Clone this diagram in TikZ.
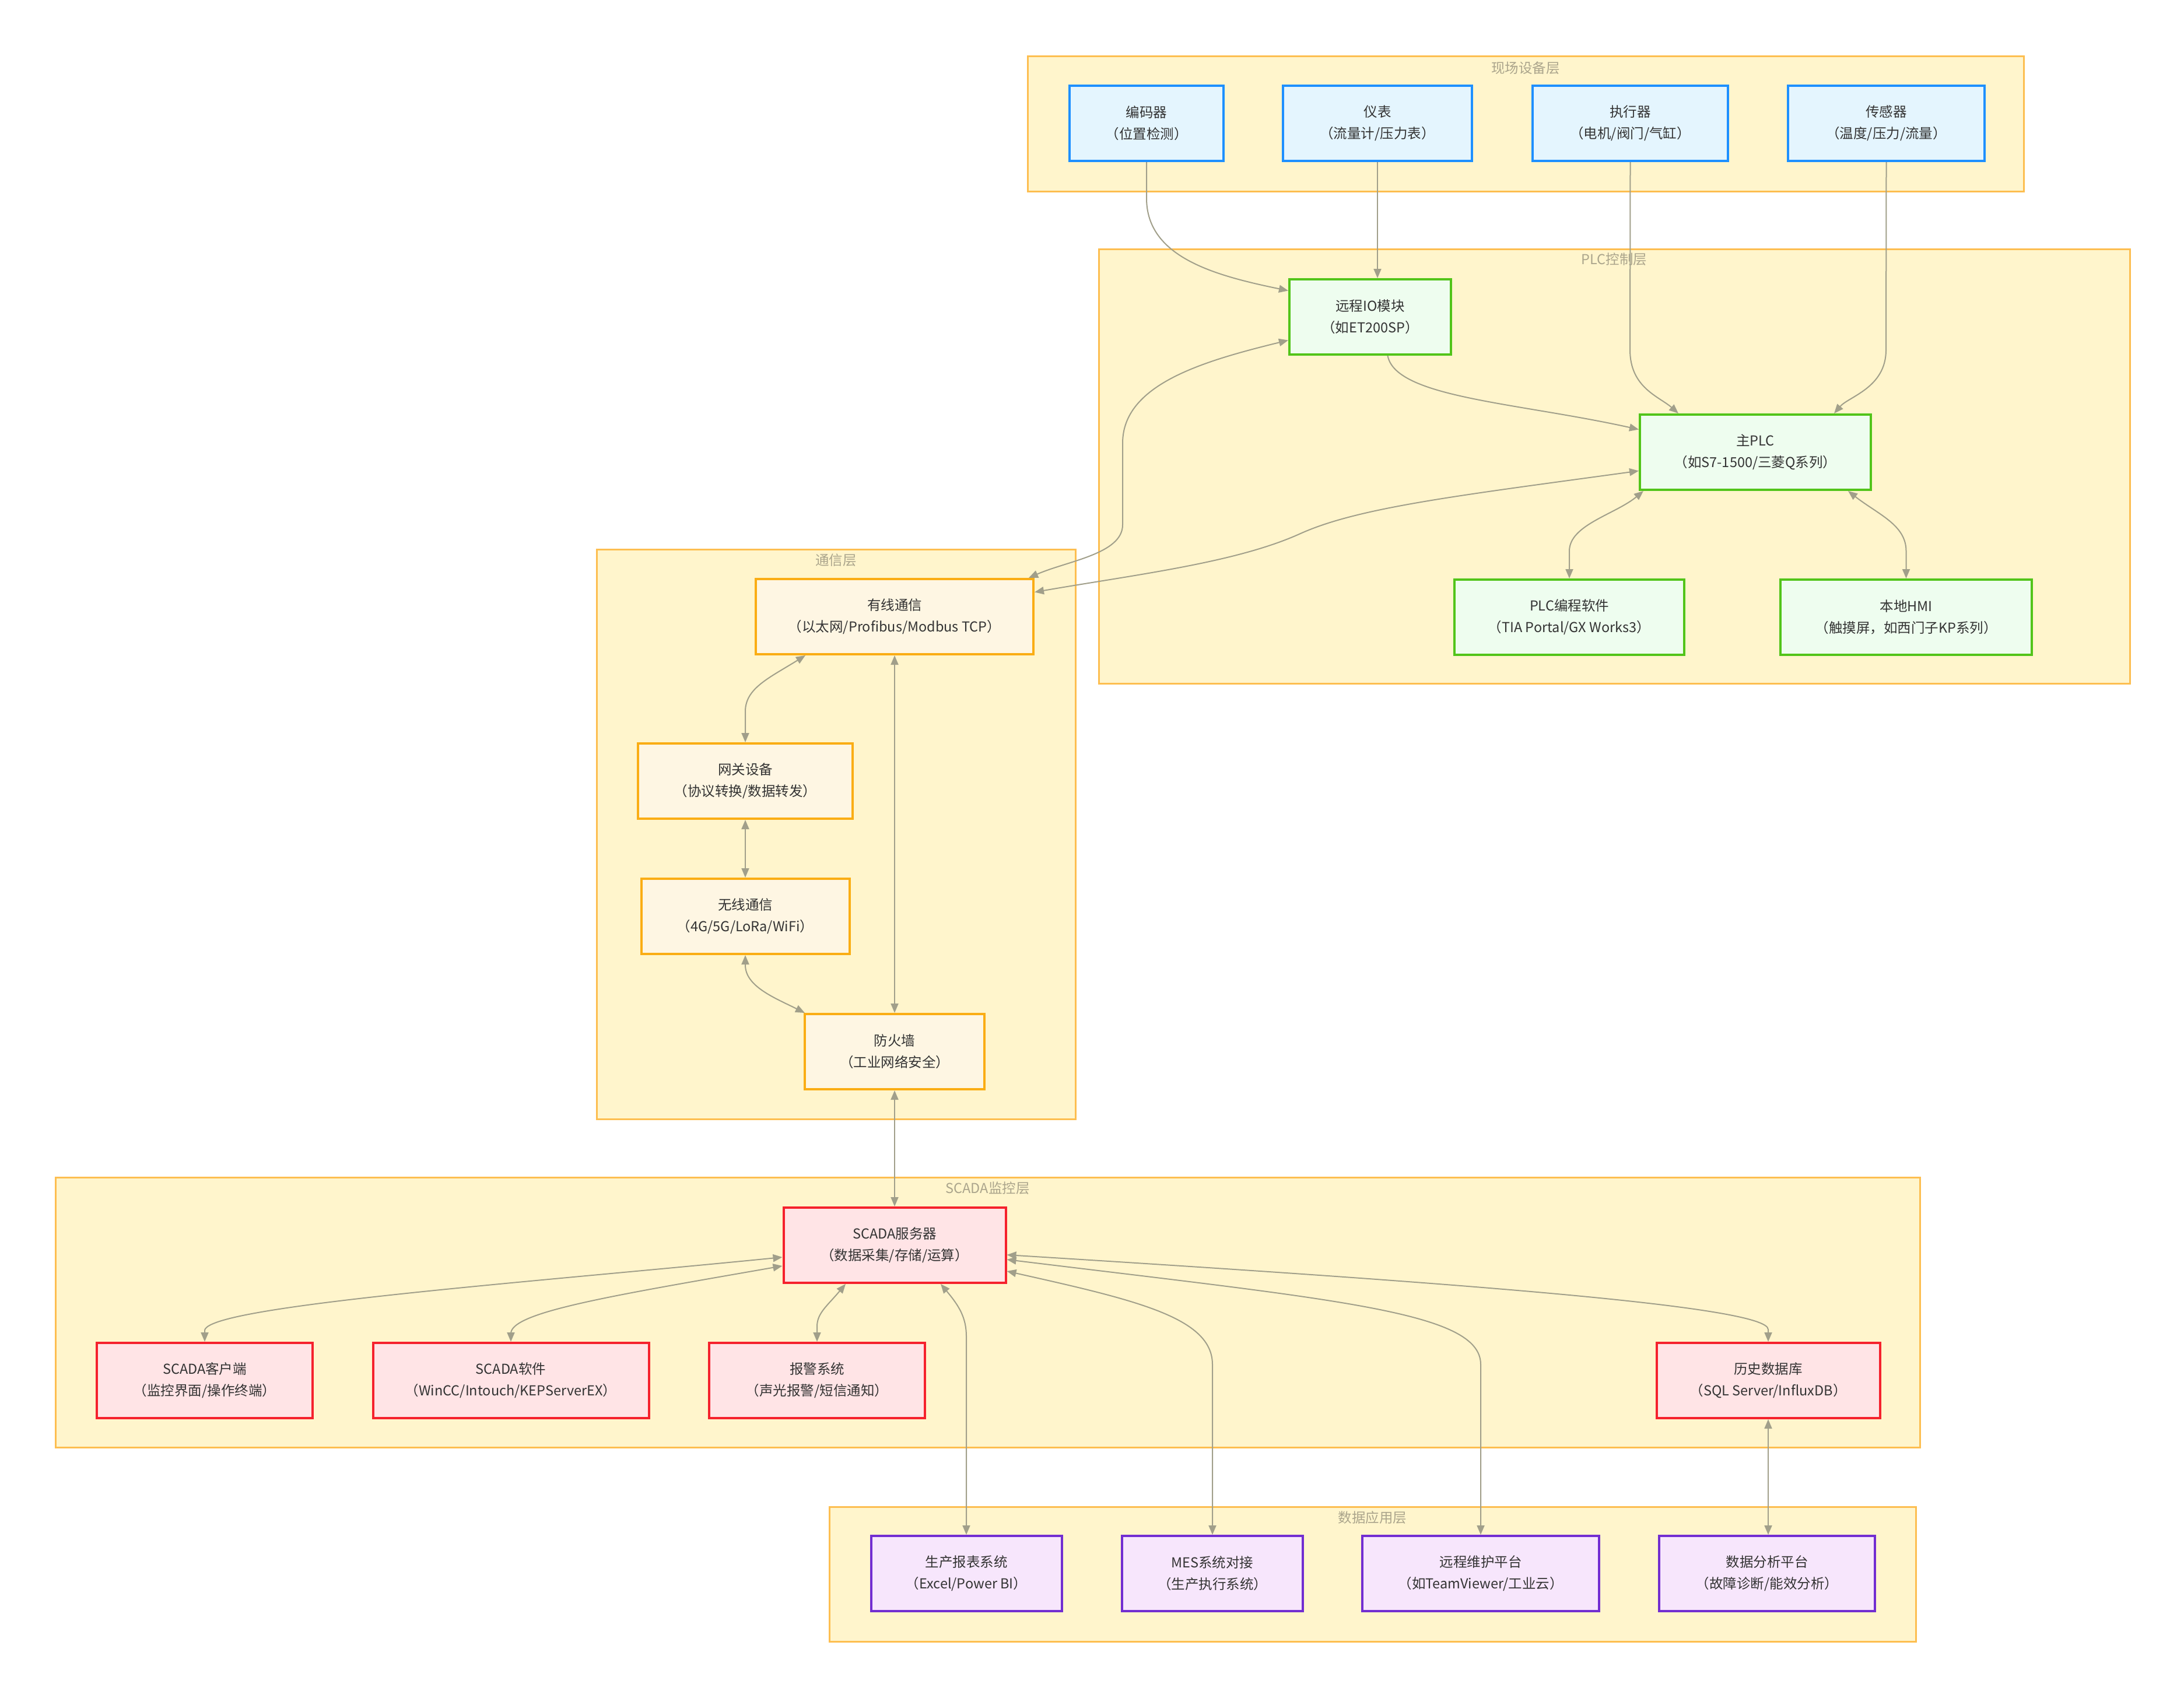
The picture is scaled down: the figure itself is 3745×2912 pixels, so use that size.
\documentclass[tikz,border=0pt]{standalone}
\usepackage{fontspec}
\newfontfamily\cjk{Noto Sans CJK SC}
\usetikzlibrary{arrows.meta,calc}
\definecolor{layerF}{HTML}{FFF5CC}
\definecolor{layerB}{HTML}{FDBE50}
\definecolor{titleC}{HTML}{ABA58C}
\definecolor{txtC}{HTML}{333333}
\definecolor{lineC}{HTML}{A19F8A}
\definecolor{fieldF}{HTML}{E4F5FE}
\definecolor{fieldB}{HTML}{1E90FF}
\definecolor{plcF}{HTML}{EEFDEF}
\definecolor{plcB}{HTML}{52C41A}
\definecolor{comF}{HTML}{FEF6E3}
\definecolor{comB}{HTML}{FAAD14}
\definecolor{scaF}{HTML}{FFE4E6}
\definecolor{scaB}{HTML}{F5222D}
\definecolor{datF}{HTML}{F7E6FC}
\definecolor{datB}{HTML}{722ED1}
\tikzset{
  box/.style={draw, line width=4pt, minimum height=129pt, align=center, text=txtC,
    font=\cjk\fontsize{23.5}{37}\selectfont, inner sep=0pt},
  fieldbox/.style={box, draw=fieldB, fill=fieldF},
  plcbox/.style={box, draw=plcB, fill=plcF},
  combox/.style={box, draw=comB, fill=comF},
  scabox/.style={box, draw=scaB, fill=scaF},
  datbox/.style={box, draw=datB, fill=datF},
  layer/.style={draw=layerB, line width=3pt, fill=layerF, inner sep=0pt},
  ltitle/.style={text=titleC, font=\cjk\fontsize{23.5}{28}\selectfont, inner sep=0pt},
  conn/.style={draw=lineC, line width=2pt},
  arr/.style={conn, -{Triangle[length=16pt,width=13pt]}},
  both/.style={conn, {Triangle[length=16pt,width=13pt]}-{Triangle[length=16pt,width=13pt]}}
}
\begin{document}
\begin{tikzpicture}[x=1pt,y=-1pt]
\useasboundingbox[fill=white] (0,0) rectangle (3745,2912);
% layers
\node[layer, minimum width=1708pt, minimum height=232pt] (L1) at (2616,212) {};
\node[ltitle] (T1) at (2616,117) {现场设备层};
\node[layer, minimum width=1768pt, minimum height=745pt] (L2) at (2768,799.5) {};
\node[ltitle] (T2) at (2768,445) {PLC控制层};
\node[layer, minimum width=821pt, minimum height=977pt] (L3) at (1433.5,1430.5) {};
\node[ltitle] (T3) at (1433.5,961) {通信层};
\node[layer, minimum width=3197pt, minimum height=463pt] (L4) at (1693.5,2250.5) {};
\node[ltitle] (T4) at (1693.5,2038) {SCADA监控层};
\node[layer, minimum width=1863pt, minimum height=231pt] (L5) at (2353.5,2699.5) {};
\node[ltitle] (T5) at (2353.5,2603) {数据应用层};
% field devices
\node[fieldbox, minimum width=264pt] (enc) at (1966,211.5) {编码器\\（位置检测）};
\node[fieldbox, minimum width=324pt] (meter) at (2362,211.5) {仪表\\（流量计/压力表）};
\node[fieldbox, minimum width=335pt] (act) at (2795.5,211.5) {执行器\\（电机/阀门/气缸）};
\node[fieldbox, minimum width=337pt] (sens) at (3234.5,211.5) {传感器\\（温度/压力/流量）};
% PLC
\node[plcbox, minimum width=277pt] (io) at (2349.5,543.5) {远程IO模块\\（如ET200SP）};
\node[plcbox, minimum width=396pt] (plc) at (3010,775.5) {主PLC\\（如S7-1500/三菱Q系列）};
\node[plcbox, minimum width=394pt] (prog) at (2691,1058.5) {PLC编程软件\\（TIA Portal/GX Works3）};
\node[plcbox, minimum width=431pt] (hmi) at (3268.5,1058.5) {本地HMI\\（触摸屏，如西门子KP系列）};
% comm
\node[combox, minimum width=476pt] (wired) at (1534,1057.5) {有线通信\\（以太网/Profibus/Modbus TCP）};
\node[combox, minimum width=368pt] (gw) at (1278,1339.5) {网关设备\\（协议转换/数据转发）};
\node[combox, minimum width=357pt] (wl) at (1278,1571.5) {无线通信\\（4G/5G/LoRa/WiFi）};
\node[combox, minimum width=308pt] (fw) at (1534,1803.5) {防火墙\\（工业网络安全）};
% SCADA
\node[scabox, minimum width=381pt] (srv) at (1534,2135.5) {SCADA服务器\\（数据采集/存储/运算）};
\node[scabox, minimum width=370pt] (cli) at (351,2367.5) {SCADA客户端\\（监控界面/操作终端）};
\node[scabox, minimum width=473pt] (sw) at (876,2367.5) {SCADA软件\\（WinCC/Intouch/KEPServerEX）};
\node[scabox, minimum width=370pt] (alarm) at (1401,2367.5) {报警系统\\（声光报警/短信通知）};
\node[scabox, minimum width=383pt] (hist) at (3032,2367.5) {历史数据库\\（SQL Server/InfluxDB）};
% data
\node[datbox, minimum width=327pt] (rep) at (1657,2698.5) {生产报表系统\\（Excel/Power BI）};
\node[datbox, minimum width=310pt] (mes) at (2079,2698.5) {MES系统对接\\（生产执行系统）};
\node[datbox, minimum width=406pt] (rmt) at (2539,2698.5) {远程维护平台\\（如TeamViewer/工业云）};
\node[datbox, minimum width=370pt] (ana) at (3030,2698.5) {数据分析平台\\（故障诊断/能效分析）};
% connectors: field -> PLC
\draw[arr] (enc.south) -- (1966,340) .. controls (1966,440) and (2080,472) .. ($(io.west)+(0,-45)$);
\draw[arr] (meter.south) -- (meter.south |- io.north);
\draw[arr] (act.south) -- (2795,600) .. controls (2795,665) and (2845,680) .. ($(plc.north west)+(68,0)$);
\draw[arr] (sens.south) -- (3234,600) .. controls (3234,665) and (3170,680) .. ($(plc.north east)+(-65,0)$);
\draw[arr] ($(io.south)+(30,0)$) .. controls (2393,682) and (2600,690) .. ($(plc.west)+(0,-39)$);
% PLC <-> comm
\draw[both] ($(io.west)+(0,40)$) .. controls (2060,620) and (1925,660) .. (1925,760) -- (1925,900) .. controls (1925,950) and (1830,962) .. ($(wired.north east)+(-10,0)$);
\draw[both] ($(plc.west)+(0,32)$) .. controls (2500,850) and (2330,870) .. (2230,915) .. controls (2120,965) and (1950,985) .. ($(wired.east)+(0,-42)$);
\draw[both] ($(plc.south west)+(8,0)$) .. controls (2770,882) and (2691,900) .. (2691,945) -- (prog.north);
\draw[both] ($(plc.south east)+(-41,0)$) .. controls (3220,882) and (3268.5,900) .. (3268.5,945) -- (hmi.north);
% comm internal
\draw[both] ($(wired.south)+(-153,0)$) .. controls (1320,1162) and (1278,1180) .. (1278,1220) -- (gw.north);
\draw[both] (gw.south) -- (wl.north);
\draw[both] (wl.south) -- (1278,1655) .. controls (1278,1692) and (1330,1712) .. ($(fw.north west)+(2,0)$);
\draw[both] (wired.south) -- (fw.north);
\draw[both] (fw.south) -- (srv.north);
% SCADA
\draw[both] ($(srv.west)+(0,20.5)$) .. controls (900,2200) and (351,2240) .. (351,2282) -- (cli.north);
\draw[both] ($(srv.west)+(0,35.5)$) .. controls (1050,2222) and (876,2250) .. (876,2287) -- (sw.north);
\draw[both] ($(srv.south)+(-84,0)$) .. controls (1418,2240) and (1401,2252) .. (1401,2275) -- (alarm.north);
\draw[both] ($(srv.south)+(79,0)$) .. controls (1645,2240) and (1657,2260) .. (1657,2292) -- (rep.north);
\draw[both] ($(srv.east)+(0,44.5)$) .. controls (1950,2230) and (2079,2260) .. (2079,2340) -- (mes.north);
\draw[both] ($(srv.east)+(0,24.5)$) .. controls (2300,2230) and (2539,2250) .. (2539,2340) -- (rmt.north);
\draw[both] ($(srv.east)+(0,16.5)$) .. controls (2500,2200) and (3032,2240) .. (3032,2280) -- (hist.north);
\draw[both] (hist.south) -- (hist.south |- ana.north);
\end{tikzpicture}
\end{document}
